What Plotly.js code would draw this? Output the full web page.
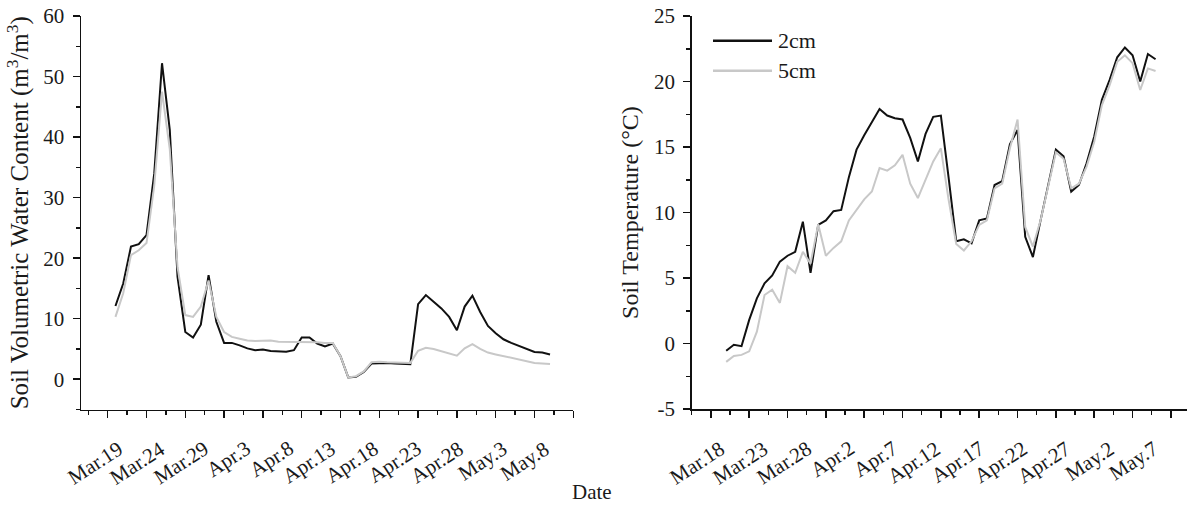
<!DOCTYPE html>
<html><head><meta charset="utf-8">
<script src="https://cdn.plot.ly/plotly-3.0.1.min.js"></script>
<style>html,body{margin:0;padding:0;background:#fff}#chart{width:1187px;height:506px}</style>
</head><body><div id="chart"></div>
<script>
// ---- Left panel: soil volumetric water content ----
const vwcIndex = [1,2,3,4,5,6,7,8,9,10,11,12,13,14,15,16,17,18,19,20,21,22,23,24,25,26,27,28,29,30,31,32,33,34,35,36,37,38,39,40,41,42,43,44,45,46,47,48,49,50,51,52,53,54,55,56,57];
const vwc2cm = [12.1,15.8,21.9,22.3,23.8,34.0,52.2,41.2,16.9,7.8,6.9,9.0,17.2,9.5,6.0,6.0,5.6,5.1,4.8,4.9,4.65,4.55,4.55,4.8,6.9,6.9,5.9,5.4,5.9,3.8,0.3,0.4,1.2,2.6,2.7,2.7,2.6,2.5,2.5,12.4,13.9,12.8,11.7,10.3,8.1,12.0,13.8,11.1,8.8,7.6,6.6,6.0,5.5,5.0,4.5,4.4,4.1];
const vwc5cm = [10.3,14.2,20.5,21.3,22.5,32.0,47.5,38.0,18.5,10.6,10.3,12.0,16.3,10.3,7.8,7.0,6.7,6.4,6.3,6.3,6.4,6.2,6.2,6.2,6.1,6.1,6.1,6.0,6.0,3.8,0.3,0.5,1.3,2.8,2.9,2.8,2.8,2.7,2.7,4.7,5.2,5.0,4.6,4.2,3.9,5.1,5.8,5.0,4.4,4.1,3.8,3.6,3.3,3.0,2.7,2.6,2.5];
const vwcTickText = ["Mar.19","Mar.24","Mar.29","Apr.3","Apr.8","Apr.13","Apr.18","Apr.23","Apr.28","May.3","May.8"];
const vwcYTicks = [0,10,20,30,40,50,60];

// ---- Right panel: soil temperature ----
const tempIndex = [2,3,4,5,6,7,8,9,10,11,12,13,14,15,16,17,18,19,20,21,22,23,24,25,26,27,28,29,30,31,32,33,34,35,36,37,38,39,40,41,42,43,44,45,46,47,48,49,50,51,52,53,54,55,56,57,58];
const temp2cm = [-0.55,-0.1,-0.2,1.8,3.45,4.6,5.2,6.25,6.7,7.0,9.3,5.4,9.05,9.4,10.1,10.2,12.7,14.8,15.9,16.9,17.9,17.4,17.2,17.1,15.7,13.9,16.0,17.3,17.4,12.7,7.8,7.95,7.65,9.4,9.55,12.1,12.4,15.2,16.3,8.15,6.6,9.4,12.2,14.8,14.3,11.6,12.1,13.75,15.8,18.6,20.1,21.85,22.6,22.0,20.0,22.1,21.7];
const temp5cm = [-1.4,-0.95,-0.87,-0.6,0.9,3.7,4.1,3.1,5.9,5.4,7.0,6.1,9.1,6.7,7.3,7.8,9.4,10.2,11.0,11.6,13.4,13.2,13.6,14.4,12.2,11.1,12.5,13.9,14.9,11.0,7.6,7.1,7.8,9.05,9.4,11.85,12.2,14.9,17.1,8.9,7.4,9.4,12.0,14.6,14.1,11.85,12.2,13.5,15.4,18.2,19.7,21.5,22.0,21.4,19.35,21.0,20.8];
const tempTickText = ["Mar.18","Mar.23","Mar.28","Apr.2","Apr.7","Apr.12","Apr.17","Apr.22","Apr.27","May.2","May.7"];
const tempYTicks = [-5,0,5,10,15,20,25];

const seriesNames = ["2cm","5cm"];
const seriesColors = ["#111111","#c8c8c8"];

// date labels are spaced a little wider than the tick marks in the original figure
function labelPositions(start, step, n){ const a=[]; for(let i=0;i<n;i++) a.push(start+step*i); return a; }
const vwcLabelPos = labelPositions(2.65, 5.5, vwcTickText.length);
const tempLabelPos = labelPositions(2.5, 5.65, tempTickText.length);

const W = 1187, H = 506;
const FONT = "Liberation Serif, Times New Roman, serif";
const ink = "#111111";
const txt = "#1a1a1a";

const traces = [
  {x: vwcIndex, y: vwc2cm, xaxis:'x', yaxis:'y', mode:'lines', name:seriesNames[0], line:{color:seriesColors[0], width:2}, showlegend:false},
  {x: vwcIndex, y: vwc5cm, xaxis:'x', yaxis:'y', mode:'lines', name:seriesNames[1], line:{color:seriesColors[1], width:2}, showlegend:false},
  {x: tempIndex, y: temp2cm, xaxis:'x2', yaxis:'y2', mode:'lines', name:seriesNames[0], line:{color:seriesColors[0], width:2}, showlegend:false},
  {x: tempIndex, y: temp5cm, xaxis:'x2', yaxis:'y2', mode:'lines', name:seriesNames[1], line:{color:seriesColors[1], width:2}, showlegend:false}
];

const leftDom = [81/W, 573.3/W];
const rightDom = [691.7/W, 1];
const yDomL = [1-409.5/H, 1-16/H];
const yDomR = [1-409/H, 1-16/H];
const leftRange = [-3.44, 60];
const rightRange = [-2.5, 62.1];

function xAxis(domain, range, anchor){
  return {domain, range, anchor, showline:true, linecolor:ink, linewidth:1.5,
    ticks:'outside', ticklen:7, tickwidth:1.5, tickcolor:ink,
    tickmode:'linear', tick0:0, dtick:5, showticklabels:false,
    showgrid:false, zeroline:false, fixedrange:true,
    minor:{ticks:'outside', ticklen:4, tickwidth:1.5, tickcolor:ink, tickmode:'linear', tick0:0, dtick:2.5, showgrid:false}};
}
function yAxis(domain, range, anchor, vals, minor, title, standoff, tsize){
  return {domain, range, anchor, showline:true, linecolor:ink, linewidth:1.5,
    ticks:'outside', ticklen:7, tickwidth:1.5, tickcolor:ink,
    tickmode:'array', tickvals:vals, ticktext:vals.map(String), tickfont:{family:FONT, size:21, color:txt},
    ticklabelstandoff:4,
    minor:{ticks:'outside', ticklen:4, tickwidth:1.5, tickcolor:ink, tickmode:'linear', tick0:0, dtick:minor, showgrid:false},
    showgrid:false, zeroline:false, fixedrange:true,
    title:{text:title, font:{family:FONT, size:tsize, color:txt}, standoff}};
}

// rotated date labels placed through the x scales
function dateLabels(xref, pos, text){
  return text.map((t,i)=>({text:t, xref, yref:'paper', x:pos[i], y:1-435/H, xanchor:'right', yanchor:'top',
    textangle:-33, showarrow:false, font:{family:FONT, size:21, color:txt}, borderpad:0}));
}

const layout = {
  width:W, height:H, margin:{l:0,r:0,t:0,b:0}, paper_bgcolor:'#fff', plot_bgcolor:'#fff',
  showlegend:false,
  xaxis: xAxis(leftDom, leftRange, 'y'),
  yaxis: yAxis(yDomL, [-5,60], 'x', vwcYTicks, 5, 'Soil Volumetric Water Content (m<sup>3</sup>/m<sup>3</sup>)', 7, 25),
  xaxis2: xAxis(rightDom, rightRange, 'y2'),
  yaxis2: yAxis(yDomR, [-5,25], 'x2', tempYTicks, 2.5, 'Soil Temperature (°C)', 8, 24),
  annotations:[
    ...dateLabels('x', vwcLabelPos, vwcTickText),
    ...dateLabels('x2', tempLabelPos, tempTickText),
    {text:'Date', xref:'paper', yref:'paper', x:592/W, y:1-492/H, xanchor:'center', yanchor:'middle', showarrow:false, font:{family:FONT, size:21, color:txt}},
    {text:seriesNames[0], xref:'paper', yref:'paper', x:776/W, y:1-40.7/H, xanchor:'left', yanchor:'middle', showarrow:false, font:{family:FONT, size:22, color:txt}},
    {text:seriesNames[1], xref:'paper', yref:'paper', x:776/W, y:1-70.7/H, xanchor:'left', yanchor:'middle', showarrow:false, font:{family:FONT, size:22, color:txt}}
  ],
  shapes:[
    {type:'line', xref:'paper', yref:'paper', x0:713/W, x1:772/W, y0:1-40.7/H, y1:1-40.7/H, line:{color:seriesColors[0], width:2.5}},
    {type:'line', xref:'paper', yref:'paper', x0:713/W, x1:772/W, y0:1-70.7/H, y1:1-70.7/H, line:{color:seriesColors[1], width:2.5}}
  ]
};

Plotly.newPlot('chart', traces, layout, {displayModeBar:false, staticPlot:true});
</script></body></html>
